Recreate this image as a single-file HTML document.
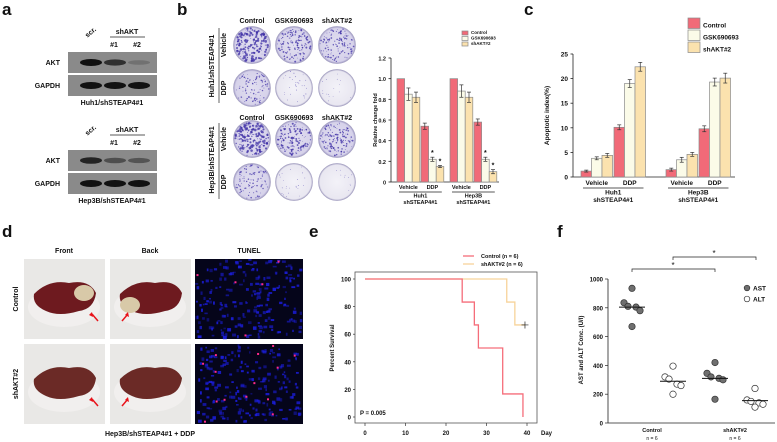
<!DOCTYPE html>
<html><head><meta charset="utf-8"><style>
body{margin:0;background:#fff}
svg{display:block;font-family:"Liberation Sans",Arial,sans-serif}
text{fill:#111}
.t{font-size:7px;font-weight:bold}
.pl{font-size:17px;font-weight:bold}
</style></head><body>
<svg id="fig" width="777" height="442" viewBox="0 0 777 442">
<defs>
<radialGradient id="plate" cx="50%" cy="50%" r="50%"><stop offset="0" stop-color="#e2dff0"/><stop offset="0.9" stop-color="#d6d2ea"/><stop offset="1" stop-color="#9d97c4"/></radialGradient>
<radialGradient id="plateL" cx="50%" cy="50%" r="50%"><stop offset="0" stop-color="#f3f2f8"/><stop offset="0.92" stop-color="#e9e7f1"/><stop offset="1" stop-color="#aaa6c6"/></radialGradient>
</defs>
<text class="pl" x="2" y="15">a</text>
<text class="pl" x="177" y="15">b</text>
<text class="pl" x="524" y="15">c</text>
<text class="pl" x="2" y="237">d</text>
<text class="pl" x="309" y="237">e</text>
<text class="pl" x="557" y="237">f</text>

<g id="blots"></g>
<g id="plates"></g>
<g id="chartB"></g>
<g id="chartC"></g>
<g id="photos"></g>
<g id="chartE"></g>
<g id="chartF"></g>
</svg>
<script>
// ---- chart data ----
const bCategories=["Huh1 Vehicle","Huh1 DDP","Hep3B Vehicle","Hep3B DDP"];
const bControl=[1.0,0.54,1.0,0.58];
const bGSK=[0.85,0.22,0.88,0.22];
const bShAKT=[0.82,0.15,0.82,0.10];
const bErrControl=[0,0.03,0,0.03];
const bErrGSK=[0.06,0.02,0.06,0.02];
const bErrShAKT=[0.05,0.01,0.05,0.02];
const bTicks=[0,0.2,0.4,0.6,0.8,1.0,1.2];
const cCategories=["Huh1 Vehicle","Huh1 DDP","Hep3B Vehicle","Hep3B DDP"];
const cControl=[1.2,10.1,1.5,9.8];
const cGSK=[3.8,19.0,3.5,19.3];
const cShAKT=[4.4,22.4,4.6,20.1];
const cErrControl=[0.2,0.5,0.3,0.6];
const cErrGSK=[0.3,0.8,0.5,0.8];
const cErrShAKT=[0.4,0.9,0.4,1.0];
const cTicks=[0,5,10,15,20,25];
const eControlDays=[0,24,27,28,34,39];
const eControlSurv=[100,83.3,66.7,50,16.7,0];
const eShDays=[0,35,37,39.5];
const eShSurv=[100,83.3,66.7,66.7];
const eXTicks=[0,10,20,30,40];
const eYTicks=[0,20,40,60,80,100];
const fGroups=["Control AST","Control ALT","shAKT#2 AST","shAKT#2 ALT"];
const fControlAST=[935,835,810,805,780,670];
const fControlALT=[395,320,305,270,260,200];
const fShAST=[420,345,320,310,300,165];
const fShALT=[240,160,150,140,130,110];
const fMedian=[805,290,310,155];
const fTicks=[0,200,400,600,800,1000];

const NS="http://www.w3.org/2000/svg";
function mk(parent,tag,attrs,txt){const e=document.createElementNS(NS,tag);for(const k in attrs)e.setAttribute(k,attrs[k]);if(txt!==undefined)e.textContent=txt;parent.appendChild(e);return e;}
let seed=7;function rnd(){seed=(seed*16807)%2147483647;return seed/2147483647;}
const RED="#f16a78",GSKC="#fbfbe8",SHC="#fbe2ae",OUT="#8a8a8a";

// ---- panel a blots ----
const blots=document.getElementById('blots');
[[52,"Huh1/shSTEAP4#1",[1,0.75,0.2]],[150,"Hep3B/shSTEAP4#1",[0.85,0.5,0.45]]].forEach(([y,lab,ints],bi)=>{
  let t=mk(blots,'text',{x:92,y:y-18,class:'t','text-anchor':'middle',transform:`rotate(-40 92 ${y-18})`,'font-weight':'normal'},'scr.');
  
  t=mk(blots,'text',{x:127,y:y-18,class:'t','text-anchor':'middle'},'shAKT');
  
  mk(blots,'line',{x1:110,x2:145,y1:y-15,y2:y-15,stroke:'#222','stroke-width':0.8});
  mk(blots,'text',{x:114,y:y-5,class:'t','text-anchor':'middle'},'#1');
  mk(blots,'text',{x:137,y:y-5,class:'t','text-anchor':'middle'},'#2');
  [[0,"AKT",ints],[23,"GAPDH",[1,1,1]]].forEach(([dy,nm,iv])=>{
    const r=mk(blots,'rect',{x:68,y:y+dy,width:89,height:21,fill:'#8a8a8a'});
    
    mk(blots,'text',{x:60,y:y+dy+13,class:'t','text-anchor':'end'},nm);
    [91,115,139].forEach((cx,i)=>{mk(blots,'ellipse',{cx:cx,cy:y+dy+10.5,rx:11,ry:2+1.5*iv[i],fill:'#111','fill-opacity':iv[i]});});
  });
  t=mk(blots,'text',{x:112,y:y+53,class:'t','text-anchor':'middle'},lab);
  
});

// ---- panel b plates ----
const plates=document.getElementById('plates');
const pCols=[252,294,337],pRows=[45,88,139,182],dens=[[1,0.7,0.6],[0.5,0.15,0.08],[1,0.75,0.65],[0.5,0.12,0.05]];
["Control","GSK690693","shAKT#2"].forEach((n,i)=>{mk(plates,'text',{x:pCols[i],y:23,class:'t','text-anchor':'middle'},n);mk(plates,'text',{x:pCols[i],y:120,class:'t','text-anchor':'middle'},n);});
pRows.forEach((cy,r)=>{pCols.forEach((cx,c)=>{
  const d=dens[r][c];
  const cc=mk(plates,'circle',{cx:cx,cy:cy,r:18.5,fill:d>0.4?'url(#plate)':'url(#plateL)',stroke:'#a8a4c4','stroke-width':0.7});
  
  const n=Math.round(200*d);
  for(let k=0;k<n;k++){const a=rnd()*6.283,rr=Math.sqrt(rnd())*17;mk(plates,'circle',{cx:cx+rr*Math.cos(a),cy:cy+rr*Math.sin(a),r:0.3+rnd()*1.0*d,fill:'#3d2fa5','fill-opacity':0.75});}
});});
[["Huh1/shSTEAP4#1",66],["Hep3B/shSTEAP4#1",160]].forEach(([l,cy])=>{mk(plates,'text',{x:214,y:cy,class:'t','text-anchor':'middle',transform:`rotate(-90 214 ${cy})`},l);});
[[45,"Vehicle"],[88,"DDP"],[139,"Vehicle"],[182,"DDP"]].forEach(([cy,l])=>{mk(plates,'text',{x:226,y:cy,class:'t','text-anchor':'middle',transform:`rotate(-90 226 ${cy})`},l);});
mk(plates,'line',{x1:219,x2:219,y1:28,y2:103,stroke:'#222','stroke-width':0.7});
mk(plates,'line',{x1:219,x2:219,y1:123,y2:199,stroke:'#222','stroke-width':0.7});

function barChart(g,o){
  const y=v=>o.y0-(v-o.ymin)/(o.ymax-o.ymin)*(o.y0-o.y1);
  mk(g,'line',{x1:o.ax,x2:o.ax,y1:y(o.ticks[o.ticks.length-1]),y2:o.y0,stroke:'#222','stroke-width':0.8});
  mk(g,'line',{x1:o.ax,x2:o.axEnd,y1:o.y0,y2:o.y0,stroke:'#222','stroke-width':0.8});
  o.ticks.forEach(t=>{mk(g,'line',{x1:o.ax-2.5,x2:o.ax,y1:y(t),y2:y(t),stroke:'#222','stroke-width':0.8});
    const tl=mk(g,'text',{x:o.ax-5,y:y(t)+2.5,'font-size':o.fs,'font-weight':'bold','text-anchor':'end'},o.fmt(t));
    });
  const series=[[o.s1,o.e1,RED,'control'],[o.s2,o.e2,GSKC,'gsk690693'],[o.s3,o.e3,SHC,'shakt2']];
  o.cats.forEach((c,ci)=>{
    series.forEach(([s,e,col,nm],si)=>{
      const x=o.gx[ci]+si*o.bw;
      const b=mk(g,'rect',{x:x,y:y(s[ci]),width:o.bw,height:o.y0-y(s[ci]),fill:col,stroke:OUT,'stroke-width':0.7});
      
      if(e[ci]>0){const cx=x+o.bw/2;
        mk(g,'line',{x1:cx,x2:cx,y1:y(s[ci]+e[ci]),y2:y(s[ci]-e[ci]),stroke:'#333','stroke-width':0.7});
        [s[ci]+e[ci],s[ci]-e[ci]].forEach(v=>mk(g,'line',{x1:cx-2,x2:cx+2,y1:y(v),y2:y(v),stroke:'#333','stroke-width':0.7}));}
      if(o.star&&ci%2===1&&si>0)mk(g,'text',{x:x+o.bw/2,y:y(s[ci]+e[ci])-2,'font-size':7,'text-anchor':'middle','font-weight':'bold'},'*');
    });
    const lab=c.split(' ')[1];
    mk(g,'text',{x:o.gx[ci]+1.5*o.bw,y:o.y0+o.lab1,'font-size':o.fs,'font-weight':'bold','text-anchor':'middle'},lab);
  });
  [[0,"Huh1"],[2,"Hep3B"]].forEach(([ci,n])=>{
    const x1=o.gx[ci]+2,x2=o.gx[ci+1]+3*o.bw-2,cx=(x1+x2)/2;
    mk(g,'line',{x1:x1,x2:x2,y1:o.y0+o.lab1+3,y2:o.y0+o.lab1+3,stroke:'#222','stroke-width':0.7});
    mk(g,'text',{x:cx,y:o.y0+o.lab1+o.fs+3,'font-size':o.fs,'font-weight':'bold','text-anchor':'middle'},n);
    mk(g,'text',{x:cx,y:o.y0+o.lab1+2*o.fs+4,'font-size':o.fs,'font-weight':'bold','text-anchor':'middle'},'shSTEAP4#1');
  });
  const yl=mk(g,'text',{x:o.ylx,y:(o.y0+o.y1)/2,'font-size':o.fs,'font-weight':'bold','text-anchor':'middle',transform:`rotate(-90 ${o.ylx} ${(o.y0+o.y1)/2})`},o.ylab);
  
  [["Control",RED],["GSK690693",GSKC],["shAKT#2",SHC]].forEach(([n,col],i)=>{
    const sw=mk(g,'rect',{x:o.lx,y:o.ly+i*o.ls,width:o.lw,height:o.ls-1.5,fill:col,stroke:OUT,'stroke-width':0.7});
    
    const lt=mk(g,'text',{x:o.lx+o.lw+3,y:o.ly+i*o.ls+o.ls-2.5,'font-size':o.lfs,'font-weight':'bold'},n);
    
  });
}
barChart(document.getElementById('chartB'),{cats:bCategories,s1:bControl,s2:bGSK,s3:bShAKT,e1:bErrControl,e2:bErrGSK,e3:bErrShAKT,ticks:bTicks,
 ymin:0,ymax:1.2,y0:182,y1:58,ax:391,axEnd:499,gx:[397,421,450,474],bw:7.6,fs:5.5,fmt:t=>t===0?'0':t.toFixed(1),lab1:7,star:true,
 ylab:'Relative change fold',ylx:377,lx:462,ly:31,ls:5.5,lw:6,lfs:4.5});
barChart(document.getElementById('chartC'),{cats:cCategories,s1:cControl,s2:cGSK,s3:cShAKT,e1:cErrControl,e2:cErrGSK,e3:cErrShAKT,ticks:cTicks,
 ymin:0,ymax:25,y0:177,y1:54,ax:573,axEnd:735,gx:[581,614,666,699],bw:10.5,fs:6.5,fmt:t=>String(t),lab1:8,star:false,
 ylab:'Apoptotic index(%)',ylx:549,lx:688,ly:18,ls:12,lw:12,lfs:6.5});

// ---- panel d photos ----
const ph=document.getElementById('photos');
[["Front",64],["Back",150],["TUNEL",249]].forEach(([n,x])=>mk(ph,'text',{x:x,y:253,class:'t','text-anchor':'middle'},n));
[["Control",299],["shAKT#2",384]].forEach(([n,y])=>mk(ph,'text',{x:18,y:y,class:'t','text-anchor':'middle',transform:`rotate(-90 18 ${y})`},n));
[[259,"#6e1a1f"],[344,"#6b2a26"]].forEach(([y,liv],ri)=>{
  [24,110].forEach((x,ci)=>{
    const r=mk(ph,'rect',{x:x,y:y,width:81,height:80,fill:'#e9e8e6'});
    
    mk(ph,'ellipse',{cx:x+40,cy:y+48,rx:36,ry:20,fill:'#f1efee'});
    mk(ph,'path',{d:`M${x+10} ${y+35} Q${x+25} ${y+20} ${x+45} ${y+24} Q${x+65} ${y+20} ${x+72} ${y+34} Q${x+70} ${y+50} ${x+55} ${y+52} Q${x+35} ${y+58} ${x+22} ${y+52} Q${x+8} ${y+46} ${x+10} ${y+35}Z`,fill:liv});
    if(ri===0)mk(ph,'ellipse',{cx:ci===0?x+60:x+20,cy:y+34+(ci?12:0),rx:10,ry:8,fill:'#d8c9a8'});
    const ax=ci===0?x+74:x+12,ay=y+62,bx=ci===0?x+68:x+18,by=y+55;
    mk(ph,'line',{x1:ax,y1:ay,x2:bx,y2:by,stroke:'#e8131a','stroke-width':1.5});
    mk(ph,'path',{d:`M${bx-3} ${by+1} L${bx} ${by-2} L${bx+1} ${by+3}Z`,fill:'#e8131a'});
  });
  const t=mk(ph,'rect',{x:195,y:y,width:108,height:80,fill:'#05051a'});
  
  for(let k=0;k<200;k++)mk(ph,'rect',{x:195+rnd()*105,y:y+rnd()*77,width:1.5+rnd()*2.5,height:1.5+rnd()*2,fill:'#1c1ee0','fill-opacity':0.4+rnd()*0.5});
  for(let k=0;k<(ri?14:5);k++)mk(ph,'rect',{x:195+rnd()*105,y:y+rnd()*77,width:2,height:2,fill:'#ff2a8a'});
});
mk(ph,'text',{x:150,y:436,class:'t','text-anchor':'middle'},'Hep3B/shSTEAP4#1 + DDP');

// ---- panel e survival ----
const ge=document.getElementById('chartE');
const ex=d=>365+d*4.05, ey=v=>417-v*1.38;
mk(ge,'rect',{x:355,y:272,width:182,height:151,fill:'none',stroke:'#555','stroke-width':0.8});
eYTicks.forEach(t=>{mk(ge,'line',{x1:353,x2:355,y1:ey(t),y2:ey(t),stroke:'#333','stroke-width':0.7});mk(ge,'text',{x:351,y:ey(t)+2.5,'font-size':6,'font-weight':'bold','text-anchor':'end'},t);});
eXTicks.forEach(t=>{mk(ge,'line',{x1:ex(t),x2:ex(t),y1:423,y2:426,stroke:'#333','stroke-width':0.7});mk(ge,'text',{x:ex(t),y:435,'font-size':6,'font-weight':'bold','text-anchor':'middle'},t);});
mk(ge,'text',{x:541,y:435,'font-size':6,'font-weight':'bold'},'Day');
mk(ge,'text',{x:334,y:348,'font-size':6,'font-weight':'bold','text-anchor':'middle',transform:'rotate(-90 334 348)'},'Percent Survival');
function km(days,surv,col,nm){let d=`M${ex(days[0])} ${ey(surv[0])}`;for(let i=1;i<days.length;i++){d+=` H${ex(days[i])} V${ey(surv[i])}`;}
  const p=mk(ge,'path',{d:d,fill:'none',stroke:col,'stroke-width':1.3});}
km(eShDays,eShSurv,'#f7d39a','shakt2');km(eControlDays,eControlSurv,'#f56d7a','control');
const cx=ex(eShDays[eShDays.length-1]),cy=ey(eShSurv[eShSurv.length-1]);
mk(ge,'path',{d:`M${cx-3.5} ${cy}H${cx+3.5}M${cx} ${cy-3.5}V${cy+3.5}`,stroke:'#222','stroke-width':0.7});
mk(ge,'text',{x:360,y:415,'font-size':6,'font-weight':'bold'},'P = 0.005');
[["Control (n = 6)",'#f56d7a',256],["shAKT#2 (n = 6)",'#f7d39a',264]].forEach(([n,c,y])=>{mk(ge,'line',{x1:463,x2:474,y1:y,y2:y,stroke:c,'stroke-width':1.3});
  const l=mk(ge,'text',{x:481,y:y+2,'font-size':5.5,'font-weight':'bold'},n);});

// ---- panel f scatter ----
const gf=document.getElementById('chartF');
const fy=v=>423-v*0.144, fx=[632,673,715,755];
const jit=[0,-8,-4,4,8,0];
mk(gf,'line',{x1:608,x2:608,y1:fy(1000),y2:423,stroke:'#222','stroke-width':0.8});
mk(gf,'line',{x1:608,x2:775,y1:423,y2:423,stroke:'#222','stroke-width':0.8});
fTicks.forEach(t=>{mk(gf,'line',{x1:605,x2:608,y1:fy(t),y2:fy(t),stroke:'#222','stroke-width':0.7});mk(gf,'text',{x:603,y:fy(t)+2.5,'font-size':6,'font-weight':'bold','text-anchor':'end'},t);});
mk(gf,'text',{x:583,y:350,'font-size':6,'font-weight':'bold','text-anchor':'middle',transform:'rotate(-90 583 350)'},'AST and ALT Conc. (U/l)');
[fControlAST,fControlALT,fShAST,fShALT].forEach((arr,gi)=>{
  arr.forEach((v,i)=>{const c=mk(gf,'circle',{cx:fx[gi]+jit[i],cy:fy(v),r:3.2,fill:gi%2===0?'#6f6f6f':'#fff',stroke:'#333','stroke-width':0.7});
    });
  mk(gf,'line',{x1:fx[gi]-13,x2:fx[gi]+13,y1:fy(fMedian[gi]),y2:fy(fMedian[gi]),stroke:'#111','stroke-width':1});
});
[["Control",652],["shAKT#2",735]].forEach(([n,x])=>{mk(gf,'text',{x:x,y:432,'font-size':5.5,'font-weight':'bold','text-anchor':'middle'},n);mk(gf,'text',{x:x,y:440,'font-size':5,'text-anchor':'middle'},'n = 6');});
mk(gf,'path',{d:'M632 272V269H715V272',fill:'none',stroke:'#222','stroke-width':0.7});
mk(gf,'path',{d:'M673 260V257H756V260',fill:'none',stroke:'#222','stroke-width':0.7});
mk(gf,'text',{x:673,y:268,'font-size':8,'text-anchor':'middle'},'*');
mk(gf,'text',{x:714,y:256,'font-size':8,'text-anchor':'middle'},'*');
[["AST",'#6f6f6f',288],["ALT",'#fff',299]].forEach(([n,c,y])=>{mk(gf,'circle',{cx:747,cy:y,r:2.8,fill:c,stroke:'#333','stroke-width':0.7});
  const l=mk(gf,'text',{x:753,y:y+2.5,'font-size':6.5,'font-weight':'bold'},n);});
</script>
</body></html>
